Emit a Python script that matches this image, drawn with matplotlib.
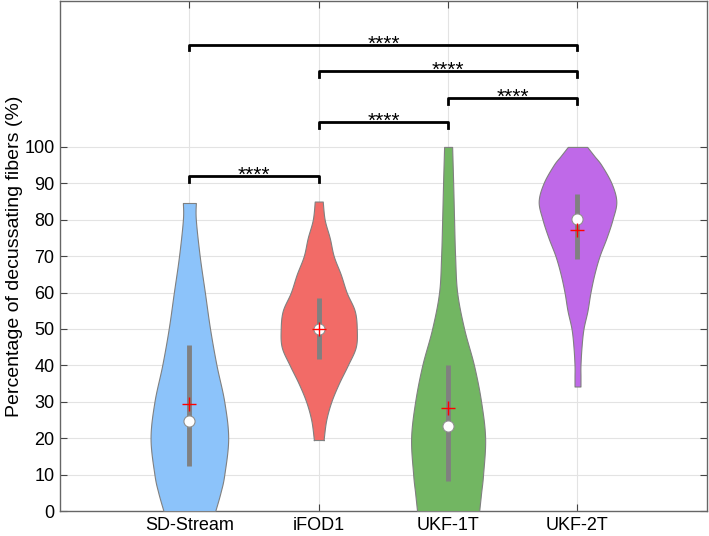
import numpy as np
import matplotlib
matplotlib.use('Agg')
import matplotlib.pyplot as plt

plt.rcParams['font.family'] = ['Liberation Sans', 'DejaVu Sans']

categories = ['SD-Stream', 'iFOD1', 'UKF-1T', 'UKF-2T']
colors = ['#8cc3fa', '#f26b67', '#72b662', '#bf69e8']

# violin outlines: value levels and half widths (x units)
sd_y = [0, 5, 10, 20, 30, 40, 50, 60, 70, 80, 84.6]
sd_w = [0.20, 0.24, 0.27, 0.30, 0.27, 0.21, 0.16, 0.12, 0.08, 0.05, 0.05]
ifod_y = [19.5, 20, 25, 30, 35, 40, 45, 50, 55, 60, 65, 70, 75, 80, 85]
ifod_w = [0.039, 0.039, 0.058, 0.097, 0.155, 0.224, 0.286, 0.294, 0.278, 0.216, 0.17, 0.116, 0.085, 0.046, 0.031]
ukf1_y = [0, 5, 10, 20, 30, 40, 50, 60, 70, 80, 90, 100]
ukf1_w = [0.24, 0.255, 0.27, 0.286, 0.255, 0.20, 0.124, 0.07, 0.054, 0.046, 0.039, 0.031]
ukf2_y = [34.2, 37, 40, 45, 50, 55, 60, 65, 70, 75, 80, 85, 90, 95, 97.5, 100]
ukf2_w = [0.023, 0.023, 0.023, 0.031, 0.046, 0.077, 0.10, 0.13, 0.17, 0.224, 0.27, 0.30, 0.263, 0.185, 0.13, 0.075]

medians = [24.7, 50.0, 23.4, 80.2]
means = [29.5, 50.0, 28.3, 77.3]
q1 = [12.5, 41.8, 8.3, 69.2]
q3 = [45.7, 58.6, 40.0, 87.2]

# significance brackets: (left, right, height)
pairs = [(1, 2, 92), (2, 3, 106.8), (3, 4, 113.4), (2, 4, 120.8), (1, 4, 128)]


def smooth_outline(yy, ww, n=12):
    # catmull-rom through the read points, only to round the drawn edge
    p = np.column_stack([yy, ww]).astype(float)
    p = np.vstack([p[0], p, p[-1]])
    out = []
    t = np.linspace(0, 1, n, endpoint=False)[:, None]
    for k in range(1, len(p) - 2):
        p0, p1, p2, p3 = p[k - 1], p[k], p[k + 1], p[k + 2]
        seg = 0.5 * (2 * p1 + (-p0 + p2) * t + (2 * p0 - 5 * p1 + 4 * p2 - p3) * t ** 2
                     + (-p0 + 3 * p1 - 3 * p2 + p3) * t ** 3)
        out.append(seg)
    out.append(p[-2][None, :])
    out = np.vstack(out)
    return out[:, 0], out[:, 1]


fig = plt.figure(figsize=(7.09, 5.36), dpi=100)
ax = fig.add_axes([0.0846, 0.0466, 0.9124, 0.951])

outlines = [(sd_y, sd_w), (ifod_y, ifod_w), (ukf1_y, ukf1_w), (ukf2_y, ukf2_w)]
for i, (yy, ww) in enumerate(outlines):
    x = i + 1
    sy, sw = smooth_outline(yy, ww)
    ax.fill_betweenx(sy, x - sw, x + sw, facecolor=colors[i], edgecolor='#808080',
                     linewidth=0.8, zorder=3)
    ax.plot([x, x], [q1[i], q3[i]], color='#808080', lw=3.5, solid_capstyle='butt', zorder=4)
    ax.plot(x, medians[i], 'o', ms=8, mfc='white', mec='#909090', mew=0.8, zorder=5)
    ax.plot(x, means[i], '+', ms=10, color='red', mew=1.0, zorder=6)

for a, b, h in pairs:
    ax.plot([a, a, b, b], [h - 1.5, h, h, h - 1.5], color='black', lw=2, zorder=4)
    ax.text((a + b) / 2, h - 1.2, '****', ha='center', va='baseline', fontsize=15, zorder=4)

ax.set_xlim(0, 5)
ax.set_ylim(0, 140)
ax.set_xticks(range(1, 5))
ax.set_xticklabels(categories)
ax.set_yticks(range(0, 101, 10))
ax.tick_params(axis='both', labelsize=13, direction='in', length=5, color='#444444',
               top=True, right=True)
ax.tick_params(axis='x', pad=4)
ax.tick_params(axis='y', pad=4)
ax.grid(True, color='#e3e3e3', lw=0.8, zorder=0)
ax.set_axisbelow(True)
for s in ax.spines.values():
    s.set_color('#666666')
    s.set_linewidth(1.0)
ax.set_ylabel('Percentage of decussating fibers (%)', fontsize=14)
ax.yaxis.set_label_coords(-0.057, 0.5)

fig.savefig('out.png', dpi=100)
